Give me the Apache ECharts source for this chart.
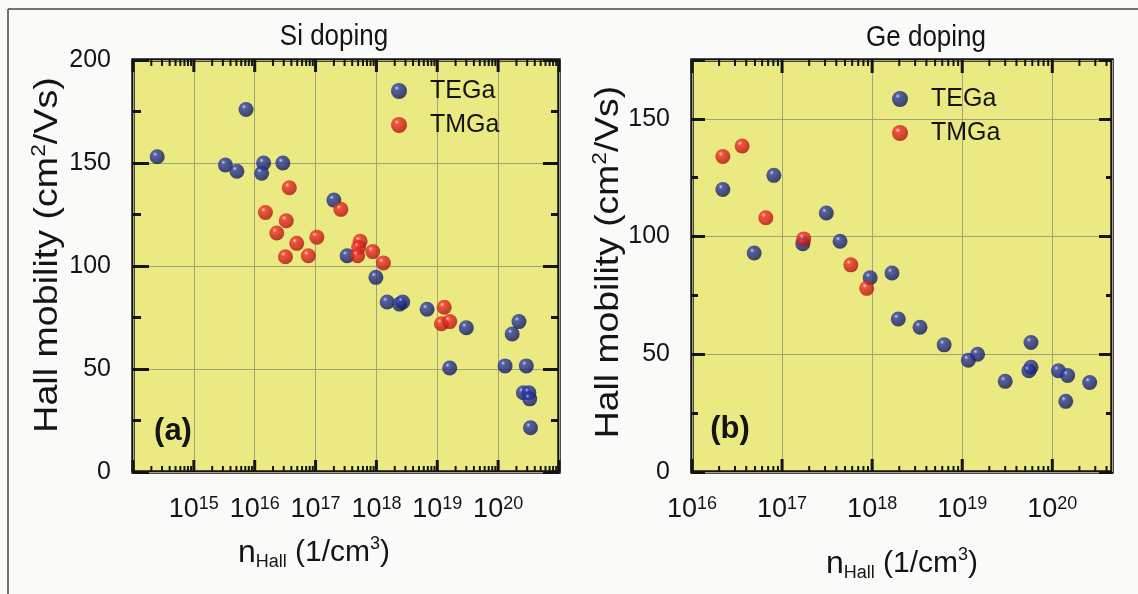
<!DOCTYPE html>
<html>
<head>
<meta charset="utf-8">
<script src="https://cdn.jsdelivr.net/npm/echarts@6/dist/echarts.min.js"></script>
<style>
  html, body { margin: 0; padding: 0; background: #fafaf8; }
  #chart { width: 1138px; height: 594px; }
</style>
</head>
<body>
<div id="chart"></div>
<script>
// Hall mobility vs. Hall carrier density: [n_Hall (1/cm^3), mobility (cm^2/Vs)]
const siTEGa = [
  [2.5e14, 153], [3.3e15, 149], [5.1e15, 146], [7.2e15, 176], [1.4e16, 150],
  [1.3e16, 145], [2.9e16, 150], [2.0e17, 132], [3.3e17, 105], [9.8e17, 94.5],
  [1.5e18, 82.5], [2.4e18, 81.5], [2.7e18, 82.5], [6.8e18, 79], [3.0e19, 70],
  [1.6e19, 50.5], [2.2e20, 73], [1.7e20, 67], [1.3e20, 51.5], [2.9e20, 51.5],
  [2.6e20, 38.5], [3.2e20, 38.5], [3.3e20, 35.5], [3.4e20, 21.5]
];
const siTMGa = [
  [3.7e16, 138], [1.5e16, 126], [3.3e16, 122], [2.3e16, 116], [4.9e16, 111],
  [1.05e17, 114], [3.2e16, 104.5], [7.6e16, 105], [2.6e17, 127.5], [5.4e17, 112],
  [5.1e17, 109], [4.9e17, 105], [8.7e17, 107], [1.3e18, 101.5], [1.3e19, 80],
  [1.17e19, 72], [1.6e19, 73]
];
const geTEGa = [
  [2.2e16, 120], [8.1e16, 126], [4.9e16, 93], [1.7e17, 97], [3.1e17, 110],
  [4.4e17, 98], [9.5e17, 82.5], [1.66e18, 84.5], [1.95e18, 65], [3.4e18, 61.5],
  [6.3e18, 54], [1.17e19, 47.5], [1.48e19, 50], [3.0e19, 38.5], [5.8e19, 55],
  [5.8e19, 44.5], [5.5e19, 43], [1.17e20, 43], [1.48e20, 41], [1.41e20, 30],
  [2.6e20, 38]
];
const geTMGa = [
  [2.2e16, 134], [3.6e16, 138.5], [6.6e16, 108], [1.74e17, 99], [5.8e17, 88],
  [8.7e17, 78]
];

// Axis ranges and labelled ticks
const siXRange = [1e14, 1e21];
const geXRange = [1e16, 4.6e20];
const siXLabelExps = [15, 16, 17, 18, 19, 20];
const geXLabelExps = [16, 17, 18, 19, 20];
const siYMax = 200;
const geYMax = 175;
const siYLabels = [0, 50, 100, 150, 200];
const geYLabels = [0, 50, 100, 150];

const FONT = '"Liberation Sans", Arial, Helvetica, sans-serif';
const INK = '#141414';
const GRIDLINE = '#a3a17a';

const blueBall = {
  type: 'radial', x: 0.36, y: 0.32, r: 0.72,
  colorStops: [
    { offset: 0, color: '#c4ccf6' },
    { offset: 0.2, color: '#2f3fa8' },
    { offset: 1, color: '#0e1656' }
  ]
};
const redBall = {
  type: 'radial', x: 0.36, y: 0.32, r: 0.72,
  colorStops: [
    { offset: 0, color: '#ffd6cf' },
    { offset: 0.2, color: '#f2302a' },
    { offset: 1, color: '#a80f0f' }
  ]
};

// decade ticks (10^d) and minor ticks (2..9 x 10^d) within an axis range
function decadeTicks(range) {
  const out = [];
  for (let d = Math.ceil(Math.log10(range[0])); d <= Math.floor(Math.log10(range[1])); d++) {
    out.push(Math.pow(10, d));
  }
  return out;
}
function minorDecadeTicks(range) {
  const out = [];
  const lo = Math.floor(Math.log10(range[0]));
  const hi = Math.ceil(Math.log10(range[1]));
  for (let d = lo; d < hi; d++) {
    for (let k = 2; k <= 9; k++) {
      const v = k * Math.pow(10, d);
      if (v > range[0] && v < range[1]) out.push(v);
    }
  }
  return out;
}

function decadeLabel(exps) {
  return function (v) {
    const e = Math.log10(v);
    const r = Math.round(e);
    if (Math.abs(e - r) > 1e-6 || exps.indexOf(r) < 0) return '';
    return '{b|10}{s|' + r + '}';
  };
}

const tickRich = {
  b: { fontSize: 27, fontFamily: FONT, color: INK, lineHeight: 30 },
  s: { fontSize: 18, fontFamily: FONT, color: INK, lineHeight: 18, verticalAlign: 'top' }
};

function xAxesFor(gridIndex, range, exps, namePadding, nameGap) {
  const common = {
    type: 'log', logBase: 10, gridIndex: gridIndex,
    min: range[0], max: range[1], interval: 1,
    axisLine: { show: false }, axisTick: { show: false }
  };
  return [
    Object.assign({}, common, {
      position: 'bottom',
      splitLine: { show: true, lineStyle: { color: GRIDLINE, width: 1 } },
      axisLabel: { margin: 23, formatter: decadeLabel(exps), rich: tickRich },
      name: '{n|n}{sub|Hall}{t| (1/cm}{sup|3}{t|)}',
      nameLocation: 'middle',
      nameGap: nameGap,
      nameTextStyle: {
        padding: namePadding,
        rich: {
          n: { fontSize: 32, fontFamily: FONT, color: INK, lineHeight: 36 },
          t: { fontSize: 30, fontFamily: FONT, color: INK, lineHeight: 36 },
          sub: { fontSize: 18, fontFamily: FONT, color: INK, lineHeight: 10, verticalAlign: 'bottom' },
          sup: { fontSize: 18, fontFamily: FONT, color: INK, lineHeight: 18, verticalAlign: 'top' }
        }
      }
    }),
    Object.assign({}, common, {
      position: 'top',
      splitLine: { show: false },
      axisLabel: { show: false }
    })
  ];
}

function yAxesFor(gridIndex, max, labels, majorLen, minorLen) {
  const common = { type: 'value', gridIndex: gridIndex, min: 0, max: max, axisLine: { show: false } };
  const major = { show: true, inside: true, length: majorLen, lineStyle: { color: INK, width: 3 } };
  const minor = { show: true, inside: true, length: minorLen, lineStyle: { color: INK, width: 3 } };
  return [
    Object.assign({}, common, {
      position: 'left', interval: 50, axisTick: major,
      splitLine: { show: true, lineStyle: { color: GRIDLINE, width: 1 } },
      axisLabel: {
        margin: 22, fontSize: 25, fontFamily: FONT, color: INK,
        formatter: function (v) { return labels.indexOf(v) >= 0 ? String(v) : ''; }
      }
    }),
    Object.assign({}, common, { position: 'left', interval: 25, axisTick: minor, axisLabel: { show: false }, splitLine: { show: false } }),
    Object.assign({}, common, { position: 'right', interval: 50, axisTick: major, axisLabel: { show: false }, splitLine: { show: false } }),
    Object.assign({}, common, { position: 'right', interval: 25, axisTick: minor, axisLabel: { show: false }, splitLine: { show: false } })
  ];
}

// ticks on the bottom and top frame of a log-x panel
function xTickSeries(gridIndex, values, len, width) {
  return {
    type: 'custom',
    xAxisIndex: gridIndex * 2,
    yAxisIndex: gridIndex * 4,
    silent: true,
    clip: false,
    z: 6,
    data: values.map(function (v) { return [v, 0]; }),
    renderItem: function (params, api) {
      const cs = params.coordSys;
      const x = api.coord([api.value(0), api.value(1)])[0];
      const top = cs.y, bot = cs.y + cs.height;
      return {
        type: 'group',
        children: [
          { type: 'line', shape: { x1: x, y1: bot, x2: x, y2: bot - len }, style: { stroke: INK, lineWidth: width } },
          { type: 'line', shape: { x1: x, y1: top, x2: x, y2: top + len }, style: { stroke: INK, lineWidth: width } }
        ]
      };
    }
  };
}

function scatter(name, gridIndex, data, color) {
  return {
    type: 'scatter', name: name,
    xAxisIndex: gridIndex * 2, yAxisIndex: gridIndex * 4,
    data: data, symbol: 'circle', symbolSize: 15,
    itemStyle: { color: color },
    z: 4
  };
}

const legendBase = {
  data: ['TEGa', 'TMGa'],
  orient: 'vertical',
  icon: 'circle',
  itemWidth: 16, itemHeight: 16, itemGap: 6,
  textStyle: { fontSize: 25, fontFamily: FONT, color: INK, lineHeight: 28, padding: [0, 0, 0, 18] },
  selectedMode: false
};

const yTitleRich = {
  t: { fontSize: 33, fontFamily: FONT, fill: INK, lineHeight: 38 },
  sup: { fontSize: 20, fontFamily: FONT, fill: INK, lineHeight: 20, verticalAlign: 'top' }
};
const yTitleText = '{t|Hall mobility (cm}{sup|2}{t|/Vs)}';

const chart = echarts.init(document.getElementById('chart'), null, { renderer: 'canvas' });

chart.setOption({
  backgroundColor: '#fafaf8',
  animation: false,
  grid: [
    { left: 133, top: 60, width: 426, height: 412, show: true, backgroundColor: '#ebe982', borderColor: INK, borderWidth: 3.5 },
    { left: 692, top: 60, width: 420, height: 412, show: true, backgroundColor: '#ebe982', borderColor: INK, borderWidth: 3.5 }
  ],
  xAxis: [].concat(
    xAxesFor(0, siXRange, siXLabelExps, [0, 64, 0, 0], 63),
    xAxesFor(1, geXRange, geXLabelExps, [0, 0, 0, 0], 74)
  ),
  yAxis: [].concat(
    yAxesFor(0, siYMax, siYLabels, 16, 8),
    yAxesFor(1, geYMax, geYLabels, 13, 6)
  ),
  legend: [
    Object.assign({}, legendBase, { left: 386, top: 72 }),
    Object.assign({}, legendBase, { left: 887, top: 80 })
  ],
  graphic: [
    { type: 'line', shape: { x1: 8, y1: 9, x2: 1138, y2: 9 }, style: { stroke: '#444', lineWidth: 1.5 }, silent: true },
    { type: 'line', shape: { x1: 8, y1: 9, x2: 8, y2: 594 }, style: { stroke: '#444', lineWidth: 1.5 }, silent: true },
    { type: 'text', x: 334, y: 37, scaleY: 1.12, style: { text: 'Si doping', font: '26px ' + FONT, fill: INK, align: 'center', verticalAlign: 'middle' }, silent: true },
    { type: 'text', x: 926, y: 38, scaleY: 1.12, style: { text: 'Ge doping', font: '26px ' + FONT, fill: INK, align: 'center', verticalAlign: 'middle' }, silent: true },
    { type: 'text', x: 48, y: 255, rotation: Math.PI / 2, scaleX: 1.14, style: { text: yTitleText, rich: yTitleRich, align: 'center', verticalAlign: 'middle' }, silent: true },
    { type: 'text', x: 609, y: 262, rotation: Math.PI / 2, scaleX: 1.13, style: { text: yTitleText, rich: yTitleRich, align: 'center', verticalAlign: 'middle' }, silent: true },
    { type: 'text', x: 173, y: 431, style: { text: '(a)', font: 'bold 31px ' + FONT, fill: INK, align: 'center', verticalAlign: 'middle' }, silent: true, z: 10 },
    { type: 'text', x: 730, y: 429, style: { text: '(b)', font: 'bold 31px ' + FONT, fill: INK, align: 'center', verticalAlign: 'middle' }, silent: true, z: 10 }
  ],
  series: [
    scatter('TEGa', 0, siTEGa, blueBall),
    scatter('TMGa', 0, siTMGa, redBall),
    scatter('TEGa', 1, geTEGa, blueBall),
    scatter('TMGa', 1, geTMGa, redBall),
    xTickSeries(0, decadeTicks(siXRange), 12, 3),
    xTickSeries(0, minorDecadeTicks(siXRange), 6, 2),
    xTickSeries(1, decadeTicks(geXRange), 13, 3),
    xTickSeries(1, minorDecadeTicks(geXRange), 6, 2)
  ]
});
</script>
</body>
</html>
